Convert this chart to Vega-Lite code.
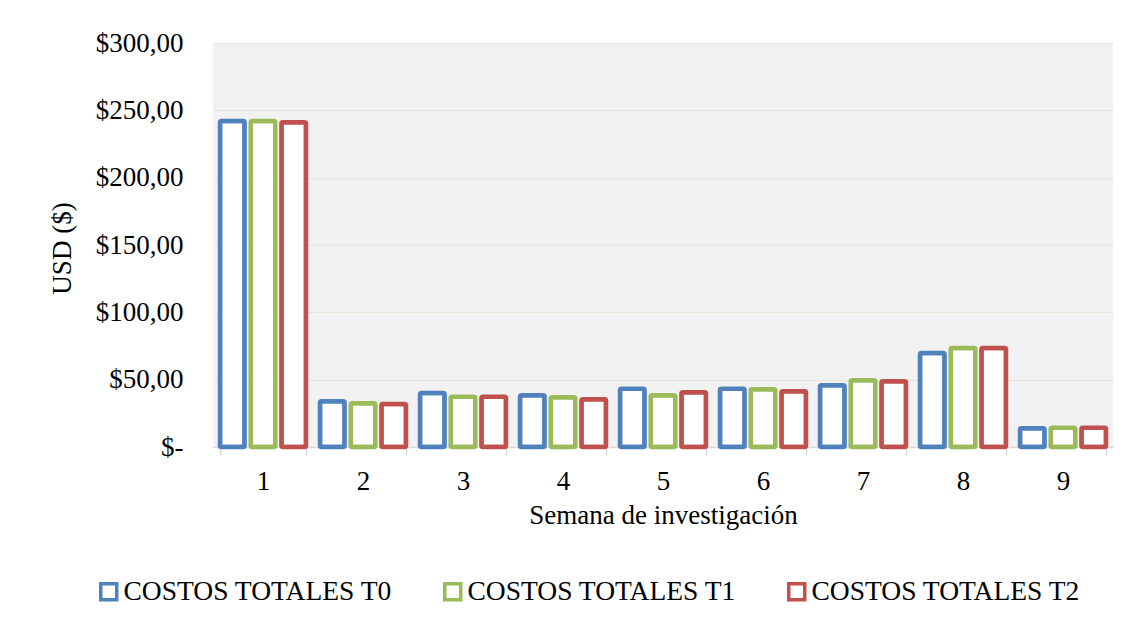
{
  "$schema": "https://vega.github.io/schema/vega-lite/v6.json",
  "width": 900,
  "height": 404,
  "autosize": {"type": "none"},
  "padding": {"left": 213, "top": 43, "right": 15, "bottom": 175},
  "background": "white",
  "config": {
    "view": {"fill": "#f2f2f2", "stroke": null},
    "font": "Liberation Serif"
  },
  "data": {
    "values": [
      {"semana": "1", "serie": "COSTOS TOTALES T0", "valor": 242},
      {"semana": "1", "serie": "COSTOS TOTALES T1", "valor": 242},
      {"semana": "1", "serie": "COSTOS TOTALES T2", "valor": 241.2},
      {"semana": "2", "serie": "COSTOS TOTALES T0", "valor": 34},
      {"semana": "2", "serie": "COSTOS TOTALES T1", "valor": 32.4},
      {"semana": "2", "serie": "COSTOS TOTALES T2", "valor": 32},
      {"semana": "3", "serie": "COSTOS TOTALES T0", "valor": 40.1},
      {"semana": "3", "serie": "COSTOS TOTALES T1", "valor": 37.3},
      {"semana": "3", "serie": "COSTOS TOTALES T2", "valor": 37.3},
      {"semana": "4", "serie": "COSTOS TOTALES T0", "valor": 38.4},
      {"semana": "4", "serie": "COSTOS TOTALES T1", "valor": 36.9},
      {"semana": "4", "serie": "COSTOS TOTALES T2", "valor": 35.4},
      {"semana": "5", "serie": "COSTOS TOTALES T0", "valor": 43.3},
      {"semana": "5", "serie": "COSTOS TOTALES T1", "valor": 38.4},
      {"semana": "5", "serie": "COSTOS TOTALES T2", "valor": 40.6},
      {"semana": "6", "serie": "COSTOS TOTALES T0", "valor": 43.3},
      {"semana": "6", "serie": "COSTOS TOTALES T1", "valor": 42.8},
      {"semana": "6", "serie": "COSTOS TOTALES T2", "valor": 41.4},
      {"semana": "7", "serie": "COSTOS TOTALES T0", "valor": 45.8},
      {"semana": "7", "serie": "COSTOS TOTALES T1", "valor": 49.5},
      {"semana": "7", "serie": "COSTOS TOTALES T2", "valor": 48.8},
      {"semana": "8", "serie": "COSTOS TOTALES T0", "valor": 69.8},
      {"semana": "8", "serie": "COSTOS TOTALES T1", "valor": 73.5},
      {"semana": "8", "serie": "COSTOS TOTALES T2", "valor": 73.5},
      {"semana": "9", "serie": "COSTOS TOTALES T0", "valor": 13.9},
      {"semana": "9", "serie": "COSTOS TOTALES T1", "valor": 14.3},
      {"semana": "9", "serie": "COSTOS TOTALES T2", "valor": 14.3}
    ]
  },
  "mark": {"type": "bar", "fill": "white", "strokeWidth": 4.5, "strokeJoin": "round", "cornerRadius": 1.5},
  "encoding": {
    "x": {
      "field": "semana",
      "type": "nominal",
      "sort": null,
      "scale": {"paddingInner": 0.14, "paddingOuter": 0.07},
      "axis": {
        "title": "Semana de investigación",
        "titleFont": "Liberation Serif",
        "titleFontSize": 27,
        "titleFontWeight": "normal",
        "titleColor": "black",
        "titlePadding": 8,
        "labelAngle": 0,
        "labelFont": "Liberation Serif",
        "labelFontSize": 27,
        "labelColor": "black",
        "labelPadding": 13,
        "tickBand": "extent",
        "tickSize": 8,
        "tickColor": "#d9d9d9",
        "tickWidth": 1.5,
        "domainColor": "#d9d9d9",
        "domainWidth": 1.5
      }
    },
    "xOffset": {
      "field": "serie",
      "type": "nominal",
      "scale": {"paddingInner": 0.2, "paddingOuter": 0}
    },
    "y": {
      "field": "valor",
      "type": "quantitative",
      "scale": {"domain": [0, 300], "nice": false},
      "axis": {
        "title": "USD ($)",
        "titleFont": "Liberation Serif",
        "titleFontSize": 27,
        "titleFontWeight": "normal",
        "titleColor": "black",
        "titleX": -151,
        "titleY": 205,
        "titleAlign": "center",
        "titleBaseline": "middle",
        "values": [0, 50, 100, 150, 200, 250, 300],
        "labelExpr": "datum.value == 0 ? '$-' : '$' + replace(format(datum.value, '.2f'), '.', ',')",
        "labelFont": "Liberation Serif",
        "labelFontSize": 27,
        "labelColor": "black",
        "labelPadding": 30,
        "ticks": false,
        "domain": false,
        "grid": true,
        "gridColor": "#e9e5d6",
        "gridWidth": 1.2
      }
    },
    "stroke": {
      "field": "serie",
      "type": "nominal",
      "scale": {
        "domain": ["COSTOS TOTALES T0", "COSTOS TOTALES T1", "COSTOS TOTALES T2"],
        "range": ["#4f81bd", "#9bbb59", "#c0504d"]
      },
      "legend": {
        "title": null,
        "orient": "none",
        "direction": "horizontal",
        "legendX": -118,
        "legendY": 535,
        "gridAlign": "none",
        "columnPadding": 44,
        "symbolType": "square",
        "symbolSize": 256,
        "symbolStrokeWidth": 3.5,
        "symbolFillColor": "white",
        "labelFont": "Liberation Serif",
        "labelFontSize": 27.5,
        "labelColor": "black",
        "labelOffset": 1,
        "labelLimit": 400
      }
    }
  }
}
